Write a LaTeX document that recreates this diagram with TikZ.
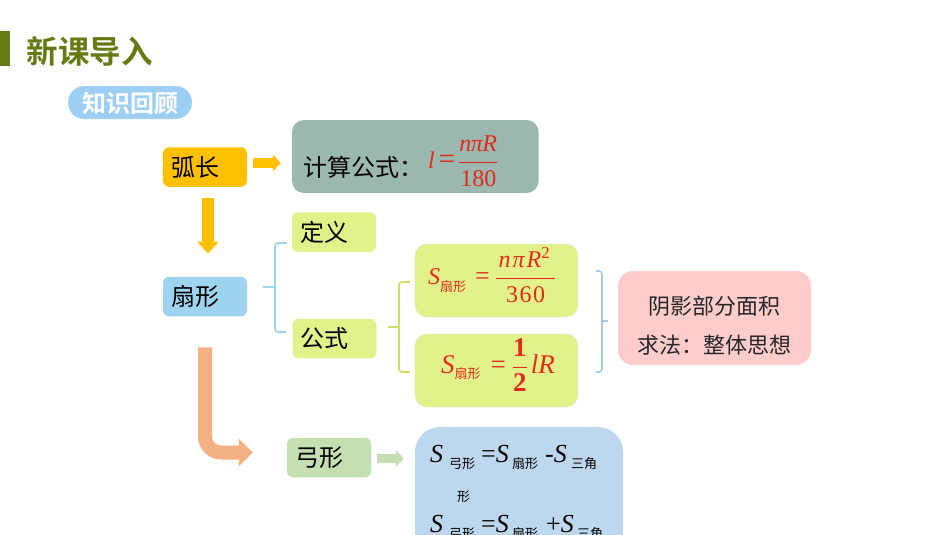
\documentclass[tikz,border=0pt]{standalone}
\usepackage{fontspec}
\setmainfont{Liberation Serif}
\newfontfamily\cjk{Noto Sans CJK SC}
\newfontfamily\cjkb{Noto Sans CJK SC Bold}
\newfontfamily\fml{Liberation Serif}
\usetikzlibrary{arrows.meta}
\definecolor{olivebar}{HTML}{667A14}
\definecolor{pillblue}{HTML}{9DCFF5}
\definecolor{arcgold}{HTML}{FFC000}
\definecolor{teal}{HTML}{9AB8B0}
\definecolor{lime}{HTML}{E2F18A}
\definecolor{skyblue}{HTML}{9FD4F0}
\definecolor{sage}{HTML}{C5DFB0}
\definecolor{paleblue}{HTML}{BDD7EE}
\definecolor{pink}{HTML}{FFCCCC}
\definecolor{peach}{HTML}{F4B183}
\definecolor{fmlred}{HTML}{E42A1A}
\definecolor{bracketgreen}{HTML}{C8E263}
\definecolor{bracketblue}{HTML}{A8C6E8}
\tikzstyle{box} = [rectangle, rounded corners=6pt, inner sep=0pt, font=\cjk\fontsize{24}{28}\selectfont]
\tikzstyle{smallbox} = [box, minimum height=39.5pt, text width=68pt, inner xsep=8pt, align=left]
\tikzstyle{bigbox} = [box, rounded corners=12pt]
\tikzstyle{arrow} = [-{Triangle[length=8pt,width=16pt]}, line width=10pt]
\tikzstyle{bracket} = [line width=1.6pt, rounded corners=3pt]
\tikzstyle{eq} = [inner sep=0pt, text=fmlred, font=\fml\fontsize{24}{28}\selectfont]
\tikzstyle{blackeq} = [eq, text=black, anchor=base west, font=\fml\itshape\fontsize{26}{30}\selectfont]
\tikzstyle{sub} = [inner sep=0pt, anchor=base west, font=\cjk\fontsize{13}{15}\selectfont]
\newcommand{\fmlfrac}[2]{$\displaystyle\frac{\hbox{#1}}{\hbox{\raisebox{-1.5pt}{#2}}}$}
\begin{document}
\begin{tikzpicture}[x=1pt, y=-1pt]
    \useasboundingbox (0,0) rectangle (950,535);
    \clip (0,0) rectangle (950,535);
    % header
    \fill [olivebar] (0,31) rectangle (10,66);
    \node (title) [inner sep=0pt, anchor=west, text=olivebar, font=\cjkb\fontsize{31.5}{35}\selectfont] at (26.5,51.5) {新课导入};
    \node (review) [rectangle, rounded corners=16pt, fill=pillblue, draw=white, densely dotted, minimum width=124pt, minimum height=33pt, inner sep=0pt, text=white, font=\cjkb\fontsize{24}{28}\selectfont] at (130,102.5) {\raisebox{-1pt}[\height][\depth]{知识回顾}};

    \node (arc) [smallbox, fill=arcgold] at (205,167) {弧长};
    \node (arcbox) [bigbox, fill=teal, minimum width=246.5pt, minimum height=73pt] at (415.3,156.5) {};
    \node (calc) [box, anchor=west] at (303,167) {计算公式：};
    \node (arcfml) [eq, anchor=west] at (428,161.5) {\itshape l\,{\upshape\fontsize{29}{29}\selectfont =}\kern3pt\fmlfrac{\itshape n\kern-0.5pt π\kern-0.5pt R}{\upshape 180}};

    \node (sector) [smallbox, fill=skyblue] at (205,296.5) {扇形};
    \node (define) [smallbox, fill=lime] at (334,232) {定义};
    \node (formula) [smallbox, fill=lime] at (334.5,338.5) {公式};

    \node (areaa) [bigbox, fill=lime, draw=black!12, line width=0.3pt, minimum width=163pt, minimum height=73pt] at (496.5,280.5) {};
    \node (areaatext) [eq, anchor=west] at (428,275) {\itshape S\raisebox{-7pt}{\cjk\upshape\fontsize{13}{15}\selectfont 扇形}\kern9pt\upshape{\fontsize{26}{26}\selectfont =}\kern5pt\fmlfrac{\kern2.5pt\itshape n\kern2pt π\kern2pt R\textsuperscript{\upshape 2}\kern5pt}{\upshape 3\kern1.5pt 6\kern1.5pt 0}};
    \node (areab) [bigbox, fill=lime, draw=black!12, line width=0.3pt, minimum width=163pt, minimum height=73pt] at (496.5,370.5) {};
    \node (areabtext) [eq, anchor=west, font=\fml\fontsize{27}{30}\selectfont] at (441,365) {\itshape S\raisebox{-5pt}{\cjk\upshape\fontsize{13}{15}\selectfont 扇形}\kern10pt\upshape =\kern6pt\fmlfrac{\bfseries 1}{\bfseries 2}\kern3pt\itshape lR};

    \node (shade) [bigbox, rounded corners=15pt, fill=pink, minimum width=193pt, minimum height=94pt] at (714.5,318) {};
    \node (shadetext) [inner sep=0pt, text=black!85, align=center, font=\cjk\fontsize{22}{39}\selectfont] at (714.5,326) {阴影部分面积\\求法：整体思想};

    \node (segment) [smallbox, fill=sage] at (329,457.5) {弓形};
    \node (segbox) [bigbox, rounded corners=25pt, fill=paleblue, minimum width=208pt, minimum height=140pt] at (519,497) {};

    % first line
    \node (sa) [blackeq] at (430,462) {S};
    \node (sa1) [sub] at (449,468) {弓形};
    \node (sa2) [blackeq] at (481,462) {\upshape=\itshape S};
    \node (sa3) [sub] at (512,468) {扇形};
    \node (sa4) [blackeq] at (545,462) {\upshape-\itshape S};
    \node (sa5) [sub] at (571,468) {三角};
    \node (sa6) [sub] at (457,501) {形};
    % second line
    \node (sb) [blackeq] at (430,532) {S};
    \node (sb1) [sub] at (449,538) {弓形};
    \node (sb2) [blackeq] at (481,532) {\upshape=\itshape S};
    \node (sb3) [sub] at (512,538) {扇形};
    \node (sb4) [blackeq] at (546,532) {\upshape+\itshape S};
    \node (sb5) [sub] at (577,538) {三角};

    \draw [arrow, arcgold, shorten <=6pt, shorten >=11pt] ([yshift=4pt]arc.east) -- ([yshift=4pt]arc.east -| arcbox.west);
    \draw [arrow, arcgold, -{Triangle[length=12pt,width=21pt]}, line width=12pt, shorten <=11pt, shorten >=23pt] ([xshift=3pt]arc.south) -- ([xshift=3pt]sector.north);
    \draw [arrow, peach, line width=14pt, rounded corners=16pt, -{Triangle[length=14pt,width=27pt]}, shorten <=31pt, shorten >=34pt] (sector.south) -- ([yshift=5pt]sector.south |- segment.west) -- ([yshift=5pt]segment.west);
    \draw [arrow, sage, line width=9pt, -{Triangle[length=8pt,width=17pt]}, shorten <=6pt, shorten >=11pt] ([yshift=-1pt]segment.east) -- ([yshift=-1pt]segment.east -| segbox.west);

    % brackets
    \coordinate (spinea) at (275,287);
    \coordinate (spineb) at (399,327);
    \coordinate (spinec) at (602,321);
    \draw [bracket, skyblue] ([xshift=-5pt,yshift=-11pt]define.west) -| (spinea) |- ([xshift=-6pt,yshift=6.5pt]formula.west);
    \draw [bracket, skyblue] ([xshift=16pt,yshift=9.5pt]sector.east) -- (spinea);
    \draw [bracket, bracketgreen] ([xshift=-5pt,yshift=-1.5pt]areaa.west) -| (spineb) |- ([xshift=-5pt,yshift=-1.5pt]areab.west);
    \draw [bracket, bracketgreen] ([xshift=11pt,yshift=11.5pt]formula.east) -- (spineb);
    \draw [bracket, bracketblue] ([xshift=18pt,yshift=9.5pt]areaa.east) -| (spinec) |- ([xshift=18pt,yshift=-1.5pt]areab.east);
    \draw [bracket, bracketblue] ([xshift=-10pt,yshift=-3pt]shade.west) -- (spinec);
\end{tikzpicture}
\end{document}
